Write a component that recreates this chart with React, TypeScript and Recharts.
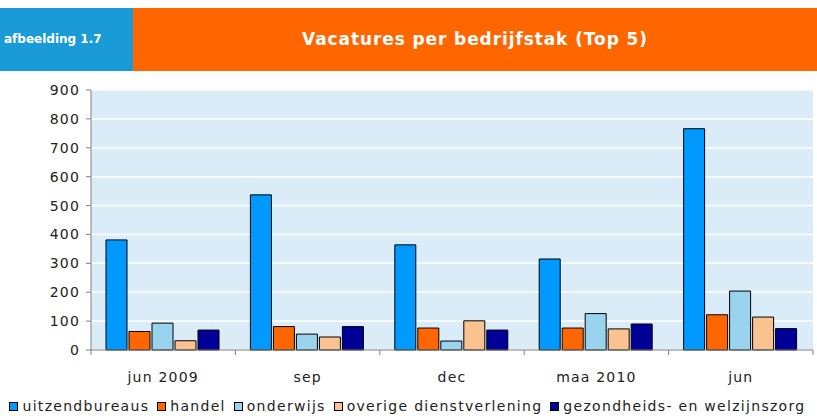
import { Bar, BarChart, CartesianGrid, Legend, XAxis, YAxis } from "recharts";

const periods = ["jun 2009", "sep", "dec", "maa 2010", "jun"];
const uitzendbureaus = [381, 537, 364, 315, 766];
const handel = [64, 81, 76, 76, 122];
const onderwijs = [93, 55, 31, 126, 204];
const overige = [32, 45, 101, 73, 114];
const gezondheid = [69, 81, 69, 90, 74];
const yTicks = [0, 100, 200, 300, 400, 500, 600, 700, 800, 900];

const series = [
  { key: "uitzendbureaus", name: "uitzendbureaus", color: "#0099FF" },
  { key: "handel", name: "handel", color: "#FF6600" },
  { key: "onderwijs", name: "onderwijs", color: "#99D3EE" },
  { key: "overige", name: "overige dienstverlening", color: "#FAC291" },
  { key: "gezondheid", name: "gezondheids- en welzijnszorg", color: "#000099" },
];

const data = periods.map((period, i) => ({
  period,
  uitzendbureaus: uitzendbureaus[i],
  handel: handel[i],
  onderwijs: onderwijs[i],
  overige: overige[i],
  gezondheid: gezondheid[i],
}));

const W = 817;
const H = 416;
const M = { top: 90, right: 4, bottom: 0, left: 0 };
const Y_WIDTH = 91;
const band = (W - M.left - M.right - Y_WIDTH) / periods.length;
const font = "'DejaVu Sans', Verdana, sans-serif";

function PeriodTick(props: any) {
  const { x, y, payload, index } = props;
  const last = index === periods.length - 1;
  return (
    <g>
      <line x1={x - band / 2} x2={x - band / 2} y1={y} y2={y + 5} stroke="#808080" />
      {last && <line x1={x + band / 2} x2={x + band / 2} y1={y} y2={y + 5} stroke="#808080" />}
      <text
        x={x}
        y={y + 32}
        textAnchor="middle"
        fill="#222"
        fontSize={14}
        fontFamily={font}
        letterSpacing={1.2}
      >
        {payload.value}
      </text>
    </g>
  );
}

function LegendRow() {
  return (
    <div
      style={{
        display: "flex",
        justifyContent: "center",
        fontFamily: font,
        fontSize: 14,
        letterSpacing: 1.3,
        color: "#222",
        whiteSpace: "nowrap",
        paddingLeft: 6,
      }}
    >
      {series.map((s) => (
        <span key={s.key} style={{ display: "inline-flex", alignItems: "center", marginRight: 8 }}>
          <span
            style={{
              width: 7,
              height: 7,
              background: s.color,
              border: "1px solid #000",
              marginRight: 4,
            }}
          />
          {s.name}
        </span>
      ))}
    </div>
  );
}

export default function App() {
  return (
    <div style={{ position: "absolute", left: 0, top: 0, width: W, height: H, background: "#fff" }}>
      <div
        style={{
          position: "absolute",
          left: 0,
          top: 8,
          width: 133,
          height: 63,
          background: "#1A9BD7",
          color: "#fff",
          fontFamily: font,
          fontWeight: "bold",
          fontSize: 12,
          lineHeight: "63px",
          paddingLeft: 4,
          boxSizing: "border-box",
        }}
      >
        afbeelding 1.7
      </div>
      <div
        style={{
          position: "absolute",
          left: 133,
          top: 8,
          width: W - 133,
          height: 63,
          background: "#FF6600",
          color: "#fff",
          fontFamily: font,
          fontWeight: "bold",
          fontSize: 17,
          letterSpacing: 0.9,
          lineHeight: "63px",
          textAlign: "center",
        }}
      >
        Vacatures per bedrijfstak (Top 5)
      </div>
      <BarChart
        width={W}
        height={H}
        data={data}
        margin={M}
        barGap={2}
        barCategoryGap={15}
      >
        <CartesianGrid fill="#DAECF7" stroke="#ffffff" strokeWidth={1.5} vertical={false} />
        <XAxis
          dataKey="period"
          height={40}
          stroke="#808080"
          tickLine={false}
          tickSize={0}
          tickMargin={0}
          interval={0}
          tick={PeriodTick}
        />
        <YAxis
          width={Y_WIDTH}
          domain={[0, 900]}
          ticks={yTicks}
          interval={0}
          stroke="#808080"
          tickSize={5}
          tickMargin={6}
          tick={{ fill: "#222", fontSize: 14, fontFamily: font, letterSpacing: 1.2 }}
        />
        <Legend
          verticalAlign="bottom"
          height={26}
          content={LegendRow}
          wrapperStyle={{ left: 0, width: W, bottom: -8 }}
        />
        {series.map((s) => (
          <Bar
            key={s.key}
            dataKey={s.key}
            name={s.name}
            fill={s.color}
            stroke="#000"
            strokeWidth={1}
            isAnimationActive={false}
          />
        ))}
      </BarChart>
    </div>
  );
}
